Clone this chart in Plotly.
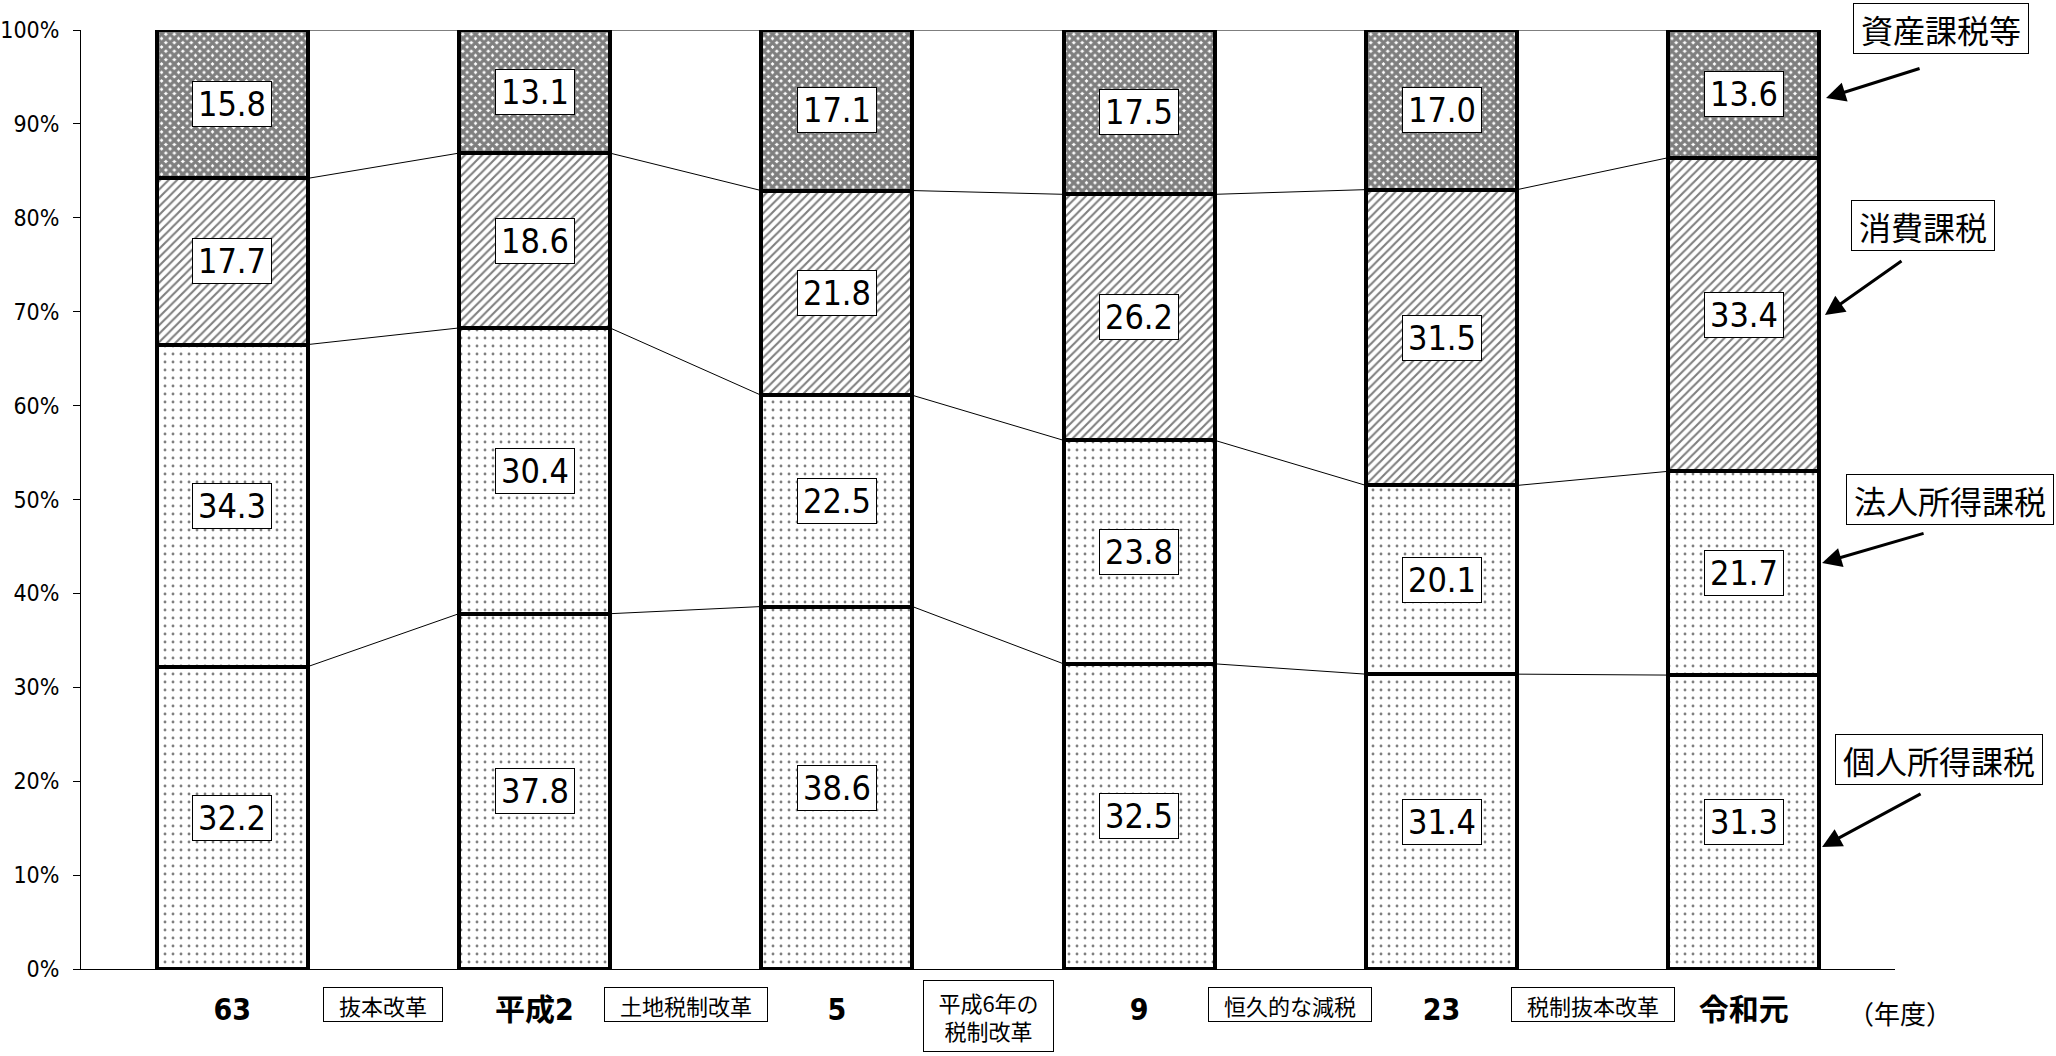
import plotly.graph_objects as go

# ---------------- data ----------------
categories = ["63", "平成2", "5", "9", "23", "令和元"]
series_names = ["個人所得課税", "法人所得課税", "消費課税", "資産課税等"]
individual = [32.2, 37.8, 38.6, 32.5, 31.4, 31.3]
corporate = [34.3, 30.4, 22.5, 23.8, 20.1, 21.7]
consumption = [17.7, 18.6, 21.8, 26.2, 31.5, 33.4]
assets = [15.8, 13.1, 17.1, 17.5, 17.0, 13.6]
reforms = ["抜本改革", "土地税制改革", "平成6年の<br>税制改革", "恒久的な減税", "税制抜本改革"]
y_ticks = [0, 10, 20, 30, 40, 50, 60, 70, 80, 90, 100]
unit_label = "（年度）"

series = [individual, corporate, consumption, assets]

# ---------------- styles ----------------
NARROW = "Liberation Sans Narrow, DejaVu Sans Condensed, Liberation Sans, Noto Sans CJK JP, sans-serif"
CJK = "Noto Sans CJK JP, sans-serif"
patterns = [
    dict(shape=".", size=8, solidity=0.1, fgcolor="black", bgcolor="white"),
    dict(shape=".", size=8, solidity=0.1, fgcolor="black", bgcolor="white"),
    dict(shape="/", size=6, solidity=0.35, fgcolor="black", bgcolor="white"),
    dict(shape="x", size=6, solidity=0.8, fgcolor="black", bgcolor="white"),
]
BAR_W = 0.5
xs = list(range(len(categories)))

fig = go.Figure()
for name, vals, pat in zip(series_names, series, patterns):
    fig.add_trace(go.Bar(
        x=xs, y=vals, name=name, width=BAR_W,
        marker=dict(color="white", pattern=pat, line=dict(color="black", width=4)),
        hoverinfo="name+y",
    ))

# normalised cumulative levels
totals = [sum(s[i] for s in series) for i in xs]
cum = []
for i in xs:
    acc = 0.0
    levels = []
    for s in series:
        acc += s[i] / totals[i] * 100
        levels.append(acc)
    cum.append(levels)

# series lines joining segment boundaries of neighbouring bars
lx, ly = [], []
for k in range(len(series)):
    for i in xs[:-1]:
        lx += [i + BAR_W / 2, i + 1 - BAR_W / 2, None]
        ly += [cum[i][k], cum[i + 1][k], None]
fig.add_trace(go.Scatter(x=lx, y=ly, mode="lines", line=dict(color="black", width=1),
                         hoverinfo="skip", showlegend=False))

annotations = []
# value labels
for k, s in enumerate(series):
    for i in xs:
        lo = cum[i][k - 1] if k > 0 else 0.0
        mid = (lo + cum[i][k]) / 2
        annotations.append(dict(
            x=i, y=mid, xref="x", yref="y", text=f"{s[i]:.1f}", showarrow=False,
            font=dict(family=NARROW, size=34, color="black"),
            bgcolor="white", bordercolor="black", borderwidth=1, borderpad=4,
            width=70, height=36, xanchor="center", yanchor="middle",
        ))


def text_units(t):
    line = max(t.split("<br>"), key=len)
    return sum(0.5 if ord(c) < 256 else 1 for c in line)


# reform boxes between categories
for i, r in enumerate(reforms):
    two = "<br>" in r
    annotations.append(dict(
        x=i + 0.5, y=-0.050 if two else -0.0373, xref="x", yref="paper", text=r,
        showarrow=False, font=dict(family=CJK, size=22, color="black"),
        bgcolor="white", bordercolor="black", borderwidth=1, borderpad=3,
        width=text_units(r) * 22 + 24, height=64 if two else 27,
        xanchor="center", yanchor="middle",
    ))

annotations.append(dict(x=1.0025, y=-0.0458, xref="paper", yref="paper", text=unit_label,
                        showarrow=False, font=dict(family=CJK, size=26, color="black"),
                        xanchor="center", yanchor="middle"))

# right-side series labels with arrows (paper coordinates of the plot area)
label_pos = [(1.0243, 0.2236), (1.0303, 0.4995), (1.0154, 0.7913), (1.0254, 1.0016)]
arrow_tip = [(0.9598, 0.1299), (0.9598, 0.4324), (0.9614, 0.6965), (0.9620, 0.9276)]
arrow_off = [(100, -54), (103, -30), (78, -55), (95, -30)]
for name, (lxp, lyp), (tx, ty), (ax, ay) in zip(series_names, label_pos, arrow_tip, arrow_off):
    annotations.append(dict(
        x=lxp, y=lyp, xref="paper", yref="paper", text=name, showarrow=False,
        font=dict(family=CJK, size=32, color="black"),
        bgcolor="white", bordercolor="black", borderwidth=1, borderpad=6,
        width=len(name) * 32 + 2, height=37, xanchor="center", yanchor="middle",
    ))
    annotations.append(dict(
        x=tx, y=ty, xref="paper", yref="paper", text="", showarrow=True,
        ax=ax, ay=ay, arrowhead=2, arrowsize=1.3, arrowwidth=3, arrowcolor="black",
    ))

fig.update_layout(
    barmode="stack", barnorm="percent",
    width=2056, height=1056,
    margin=dict(l=81, r=161, t=30, b=87),
    paper_bgcolor="white", plot_bgcolor="white",
    showlegend=False,
    font=dict(family=NARROW, color="black"),
    annotations=annotations,
    xaxis=dict(
        range=[-0.5, 5.5], tickvals=xs, ticktext=[f"<b>{c}</b>" for c in categories],
        tickfont=dict(family=NARROW, size=30, color="black"),
        showline=True, linecolor="black", linewidth=1, ticks="",
        showgrid=False, zeroline=False, ticklabelstandoff=14, automargin=False,
    ),
    yaxis=dict(
        range=[0, 100], tickmode="array", tickvals=y_ticks,
        ticktext=[f"{v}%" for v in y_ticks],
        tickfont=dict(family=NARROW, size=23, color="black"),
        showline=True, linecolor="black", linewidth=1,
        ticks="outside", ticklen=7, tickcolor="black", tickwidth=1,
        showgrid=False, zeroline=False, ticklabelstandoff=9, automargin=False,
    ),
)

fig.write_html("out.html")
